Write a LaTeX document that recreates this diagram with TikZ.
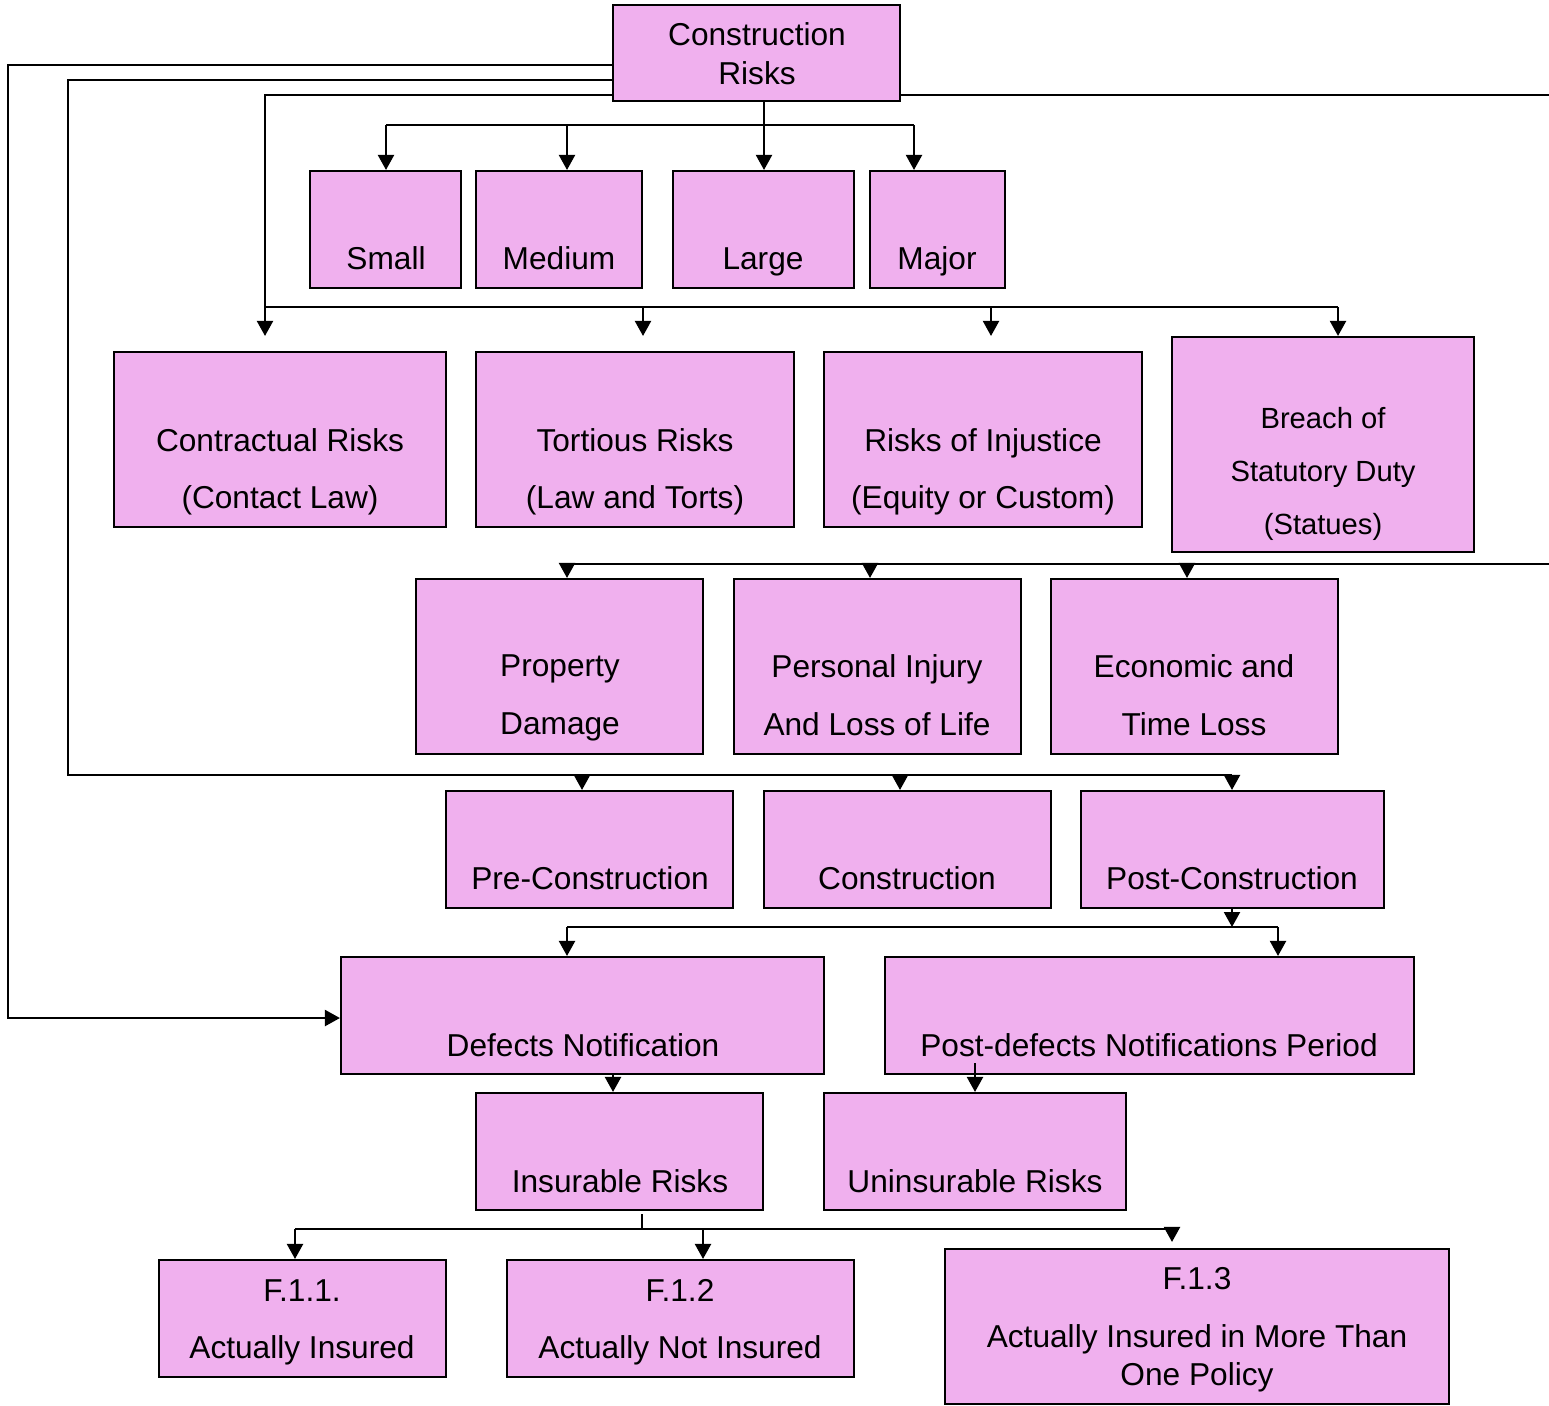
\documentclass[tikz,border=0pt]{standalone}
\usepackage{fontspec}
\setmainfont{Liberation Sans}
\usetikzlibrary{arrows.meta,fit}
\definecolor{boxpink}{RGB}{240,176,238}
\tikzset{riskbox/.style={draw=black,fill=boxpink,line width=0.6pt,inner sep=0pt},
  risktext/.style={font=\fontsize{9}{16.2}\selectfont,align=center,inner sep=0pt},
  link/.style={line width=0.6pt},
  arr/.style={line width=0.6pt,-{Triangle[length=0.15cm,width=0.16cm]}}}

\begin{document}
\begin{tikzpicture}[x=0.01cm,y=-0.01cm]
        \useasboundingbox (0,0) rectangle (1549,1405);
        \clip (0,0) rectangle (1549,1405);
        % boxes
        \node[riskbox,fit={(613,5) (900,101)}] (root) {};
        \node[riskbox,fit={(310,171) (461,288)}] (small) {};
        \node[riskbox,fit={(476,171) (642,288)}] (medium) {};
        \node[riskbox,fit={(673,171) (854,288)}] (large) {};
        \node[riskbox,fit={(870,171) (1005,288)}] (major) {};
        \node[riskbox,fit={(114,352) (446,527)}] (contract) {};
        \node[riskbox,fit={(476,352) (794,527)}] (tort) {};
        \node[riskbox,fit={(824,352) (1142,527)}] (injust) {};
        \node[riskbox,fit={(1172,337) (1474,552)}] (breach) {};
        \node[riskbox,fit={(416,579) (703,754)}] (property) {};
        \node[riskbox,fit={(734,579) (1021,754)}] (injury) {};
        \node[riskbox,fit={(1051,579) (1338,754)}] (economic) {};
        \node[riskbox,fit={(446,791) (733,908)}] (precon) {};
        \node[riskbox,fit={(764,791) (1051,908)}] (con) {};
        \node[riskbox,fit={(1081,791) (1384,908)}] (postcon) {};
        \node[riskbox,fit={(341,957) (824,1074)}] (defects) {};
        \node[riskbox,fit={(885,957) (1414,1074)}] (postdef) {};
        \node[riskbox,fit={(476,1093) (763,1210)}] (insur) {};
        \node[riskbox,fit={(824,1093) (1126,1210)}] (uninsur) {};
        \node[riskbox,fit={(159,1260) (446,1377)}] (fa) {};
        \node[riskbox,fit={(507,1260) (854,1377)}] (fb) {};
        \node[riskbox,fit={(945,1249) (1449,1404)}] (fc) {};
        % texts
        \node[risktext,font=\fontsize{9}{11.1}\selectfont] (tRoot) at (757,53.5) {Construction\\Risks};
        \node[risktext] (tSmall) at (386,258) {Small};
        \node[risktext] (tMedium) at (559,258) {Medium};
        \node[risktext] (tLarge) at (763,262) {Large};
        \node[risktext] (tMajor) at (937,261) {Major};
        \node[risktext] (tContract) at (280,471.5) {Contractual Risks\\(Contact Law)};
        \node[risktext] (tTort) at (635,471.5) {Tortious Risks\\(Law and Torts)};
        \node[risktext] (tInjust) at (983,471.5) {Risks of Injustice\\(Equity or Custom)};
        \node[risktext,font=\fontsize{8.3}{15.1}\selectfont] (tBreach) at (1323,474) {Breach of\\Statutory Duty\\(Statues)};
        \node[risktext,font=\fontsize{9}{16.5}\selectfont] (tProperty) at (560,698) {Property\\Damage};
        \node[risktext,font=\fontsize{9}{16.5}\selectfont] (tInjury) at (877,695) {Personal Injury\\And Loss of Life};
        \node[risktext,font=\fontsize{9}{16.5}\selectfont] (tEconomic) at (1194,695) {Economic and\\Time Loss};
        \node[risktext] (tPrecon) at (590,878) {Pre-Construction};
        \node[risktext] (tCon) at (907,878) {Construction};
        \node[risktext] (tPostcon) at (1232,878) {Post-Construction};
        \node[risktext] (tDefects) at (583,1045) {Defects Notification};
        \node[risktext] (tPostdef) at (1149,1045) {Post-defects Notifications Period};
        \node[risktext] (tInsur) at (620,1181) {Insurable Risks};
        \node[risktext] (tUninsur) at (975,1181) {Uninsurable Risks};
        \node[risktext] (tFa) at (302,1322) {F.1.1.\\Actually Insured};
        \node[risktext] (tFb) at (680,1322) {F.1.2\\Actually Not Insured};
        \node[risktext,font=\fontsize{9}{10.8}\selectfont] (tFc) at (1197,1330) {F.1.3\\[0.2cm]Actually Insured in More Than\\One Policy};
        % size bus
        \coordinate (tapS) at (386,125);
        \coordinate (tapM) at (567,125);
        \coordinate (tapL) at (764,125);
        \coordinate (tapJ) at (914,125);
        \draw[link] (tapS) -- (tapJ);
        \draw[arr] (tapL |- root.south) -- (tapL |- large.north);
        \draw[arr] (tapS) -- (tapS |- small.north);
        \draw[arr] (tapM) -- (tapM |- medium.north);
        \draw[arr] (tapJ) -- (tapJ |- major.north);
        % lines leaving the root
        \coordinate (outA) at (613,65);
        \coordinate (outB) at (613,80);
        \coordinate (outC) at (613,95);
        \coordinate (outD) at (900,95);
        \coordinate (bendA) at (8,1018);
        \draw[arr] (outA) -| (bendA) -- (bendA -| defects.west);
        % law bus
        \coordinate (tapContr) at (265,307);
        \coordinate (tapTort) at (643,307);
        \coordinate (tapInj) at (991,307);
        \coordinate (tapBre) at (1338,307);
        \draw[arr] (outC) -| (tapContr |- breach.north);
        \draw[link] (tapContr) -- (tapBre);
        \draw[arr] (tapTort) -- (tapTort |- breach.north);
        \draw[arr] (tapInj) -- (tapInj |- breach.north);
        \draw[arr] (tapBre) -- (tapBre |- breach.north);
        % loss bus, round the right edge
        \coordinate (bendD1) at (1600,95);
        \coordinate (bendD2) at (1600,564);
        \coordinate (tapProp) at (567,564);
        \coordinate (tapPers) at (870,564);
        \coordinate (tapEco) at (1187,564);
        \draw[link] (outD) -- (bendD1) -- (bendD2) -- (tapProp);
        \draw[arr] (tapProp) -- (tapProp |- property.north);
        \draw[arr] (tapPers) -- (tapPers |- injury.north);
        \draw[arr] (tapEco) -- (tapEco |- economic.north);
        % phase bus
        \coordinate (bendB) at (68,775);
        \coordinate (tapPre) at (582,775);
        \coordinate (tapCon) at (900,775);
        \coordinate (tapPost) at (1232,775);
        \draw[link] (outB) -| (bendB) -- (tapPost);
        \draw[arr] (tapPre) -- (tapPre |- precon.north);
        \draw[arr] (tapCon) -- (tapCon |- con.north);
        \draw[arr] (tapPost) -- (tapPost |- postcon.north);
        % notification bus
        \coordinate (busE) at (1232,927);
        \coordinate (tapDef) at (567,927);
        \coordinate (tapPd) at (1278,927);
        \draw[arr] (busE |- postcon.south) -- (busE);
        \draw[link] (tapDef) -- (tapPd);
        \draw[arr] (tapDef) -- (tapDef |- defects.north);
        \draw[arr] (tapPd) -- (tapPd |- postdef.north);
        \coordinate (tapIns) at (613,1074);
        \coordinate (tapUn) at (975,1063);
        \draw[arr] (tapIns |- defects.south) -- (tapIns |- insur.north);
        \draw[arr] (tapUn) -- (tapUn |- uninsur.north);
        % insured bus
        \coordinate (stemF) at (642,1214);
        \coordinate (busF) at (642,1229);
        \coordinate (tapFa) at (295,1229);
        \coordinate (tapFb) at (703,1229);
        \coordinate (tapFc) at (1172,1229);
        \draw[link] (stemF) -- (busF);
        \draw[link] (tapFa) -- (tapFc);
        \draw[arr] (tapFa) -- (tapFa |- fa.north);
        \draw[arr] (tapFb) -- (tapFb |- fb.north);
        \draw[arr,shorten >=0.06cm] (tapFc) -- (tapFc |- fc.north);
\end{tikzpicture}
\end{document}
